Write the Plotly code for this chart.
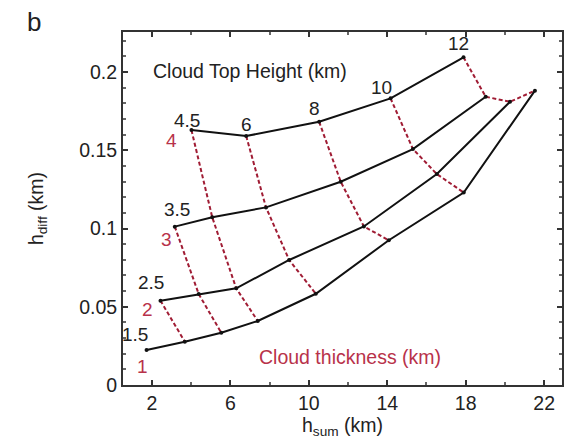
import plotly.graph_objects as go

# Cloud top heights (km) for each point along each constant-thickness curve
cth_all = [1.5, 2.5, 3.5, 4.5, 6, 8, 10, 12]
thickness = [1, 2, 3, 4]

hsum = {
    1: [1.73, 3.68, 5.54, 7.40, 10.36, 14.08, 17.90, 21.53],
    2: [2.44, 4.39, 6.30, 9.00, 12.81, 16.53, 20.26],
    3: [3.17, 5.08, 7.82, 11.63, 15.31, 19.02],
    4: [4.02, 6.81, 10.53, 14.17, 17.89],
}
hdiff = {
    1: [0.0224, 0.0277, 0.0334, 0.0409, 0.0583, 0.0925, 0.1230, 0.1881],
    2: [0.0539, 0.0581, 0.0618, 0.0799, 0.1013, 0.1348, 0.1810],
    3: [0.1012, 0.1072, 0.1135, 0.1299, 0.1508, 0.1842],
    4: [0.1629, 0.1591, 0.1682, 0.1832, 0.2094],
}
cth = {t: cth_all[t - 1:] for t in thickness}

x_ticks = [2, 6, 10, 14, 18, 22]
y_ticks = [0, 0.05, 0.1, 0.15, 0.2]
y_ticklabels = ["0", "0.05", "0.1", "0.15", "0.2"]

RED = "#a01c34"
LBL_RED = "#b8324a"
FONT = "Liberation Sans, Arial, sans-serif"
FS = 19.5

fig = go.Figure()

# red dashed lines: constant cloud top height
for h in cth_all[1:]:
    xs, ys = [], []
    for t in sorted(thickness, reverse=True):
        if h in cth[t]:
            i = cth[t].index(h)
            xs.append(hsum[t][i]); ys.append(hdiff[t][i])
    fig.add_trace(go.Scatter(x=xs, y=ys, mode="lines",
                             line=dict(color=RED, width=2, dash="4px,2.5px"),
                             hoverinfo="skip", showlegend=False))

# black lines: constant cloud thickness
for t in thickness:
    fig.add_trace(go.Scatter(x=hsum[t], y=hdiff[t], mode="lines+markers",
                             line=dict(color="#111111", width=2),
                             marker=dict(color="#111111", size=4),
                             hoverinfo="skip", showlegend=False))

ann = []
# CTH labels (black), offsets in pixels relative to data points
cth_label_pts = [(1, 0, "1.5", -12, 15), (2, 0, "2.5", -9, 18), (3, 0, "3.5", 2, 17),
                 (4, 0, "4.5", -4, 10), (4, 1, "6", 0, 12), (4, 2, "8", -5, 13),
                 (4, 3, "10", -9, 11), (4, 4, "12", -5, 14)]
for t, i, txt, dx, dy in cth_label_pts:
    ann.append(dict(x=hsum[t][i], y=hdiff[t][i], xref="x", yref="y", text=txt,
                    showarrow=False, xshift=dx, yshift=dy,
                    xanchor="center", yanchor="middle",
                    font=dict(family=FONT, size=19, color="#222222")))
# thickness labels (red)
thk_label_pts = [(4, "4", -20, -10), (3, "3", -8, -13), (2, "2", -13, -9), (1, "1", -4, -17)]
for t, txt, dx, dy in thk_label_pts:
    ann.append(dict(x=hsum[t][0], y=hdiff[t][0], xref="x", yref="y", text=txt,
                    showarrow=False, xshift=dx, yshift=dy,
                    xanchor="center", yanchor="middle",
                    font=dict(family=FONT, size=19, color=LBL_RED)))

ann.append(dict(x=0.29, y=0.8895, xref="paper", yref="paper", text="Cloud Top Height (km)",
                showarrow=False, xanchor="center", yanchor="middle",
                font=dict(family=FONT, size=FS, color="#222222")))
ann.append(dict(x=0.517, y=0.0793, xref="paper", yref="paper", text="Cloud thickness (km)",
                showarrow=False, xanchor="center", yanchor="middle",
                font=dict(family=FONT, size=FS, color=LBL_RED)))
ann.append(dict(x=-0.2018, y=1.028, xref="paper", yref="paper", text="b",
                showarrow=False, xanchor="center", yanchor="middle",
                font=dict(family=FONT, size=26, color="#222222")))

fig.update_layout(
    width=570, height=444,
    margin=dict(l=123, r=6, t=32, b=59),
    paper_bgcolor="white", plot_bgcolor="white",
    font=dict(family=FONT, size=FS, color="#222222"),
    annotations=ann,
    xaxis=dict(range=[0.53, 22.91], tickvals=x_ticks, ticks="inside", ticklen=5,
               tickcolor="#333", tickwidth=1.5,
               minor=dict(dtick=2, tick0=0, ticks="inside", ticklen=3, tickcolor="#666"),
               showline=True, linecolor="#333", linewidth=2, mirror="ticks",
               showgrid=False, zeroline=False,
               title=dict(text="h<sub>sum</sub> (km)", standoff=4,
                          font=dict(family=FONT, size=FS))),
    yaxis=dict(range=[0, 0.2256], tickvals=y_ticks, ticktext=y_ticklabels,
               ticks="inside", ticklen=5, tickcolor="#333", tickwidth=1.5,
               minor=dict(dtick=0.01, tick0=0, ticks="inside", ticklen=3, tickcolor="#666"),
               showline=True, linecolor="#333", linewidth=2, mirror="ticks",
               showgrid=False, zeroline=False,
               title=dict(text="h<sub>diff</sub> (km)", standoff=30,
                          font=dict(family=FONT, size=FS))),
)

fig.write_html("out.html")
